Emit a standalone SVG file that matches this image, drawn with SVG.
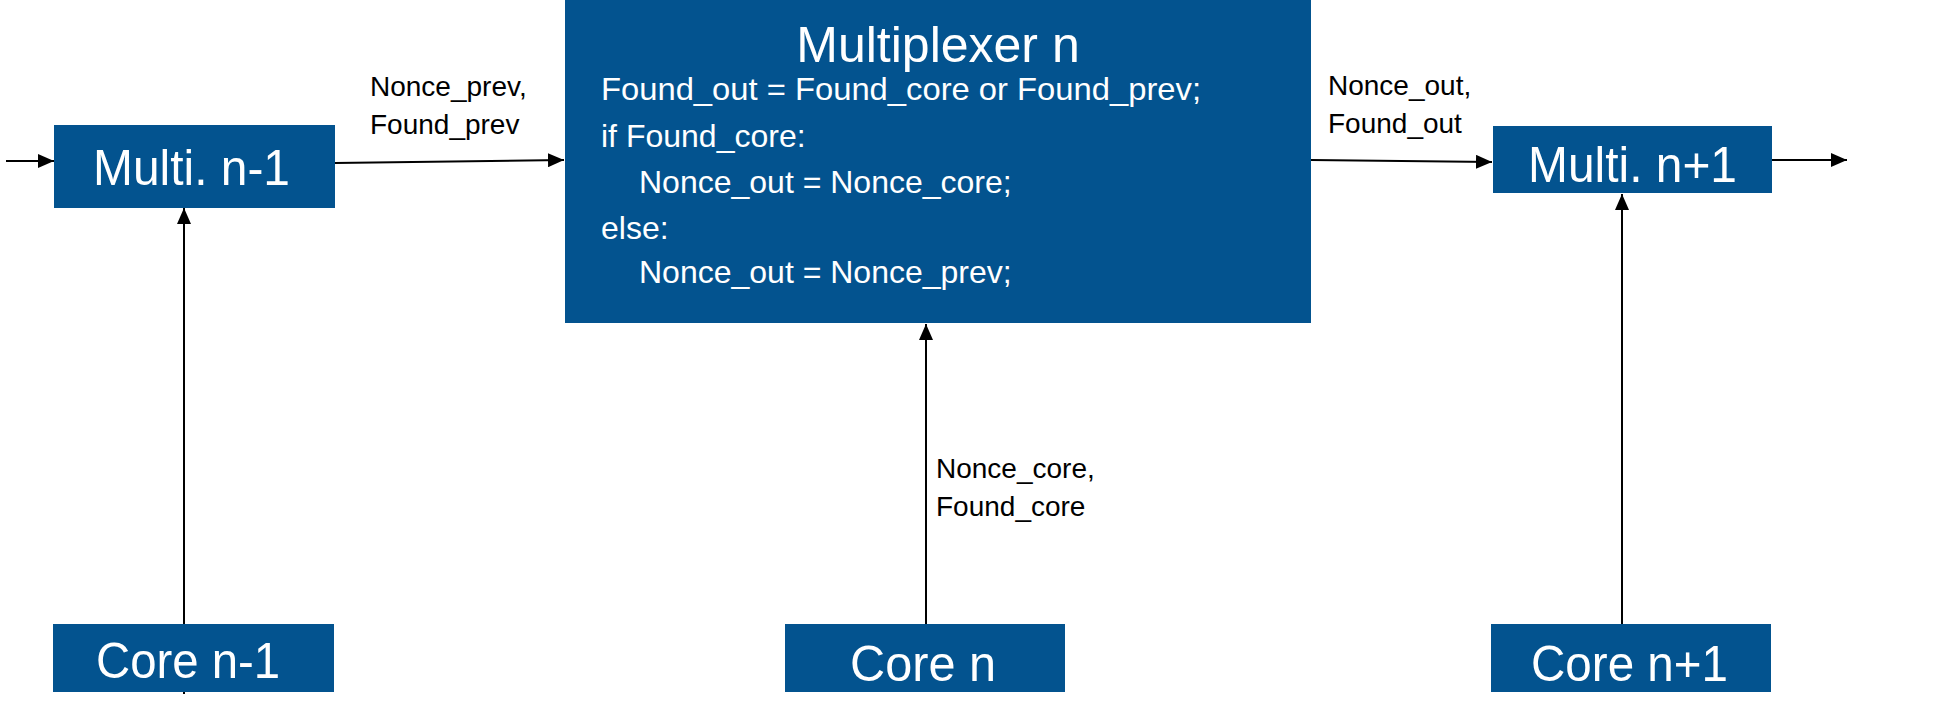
<svg xmlns="http://www.w3.org/2000/svg" width="1938" height="713" viewBox="0 0 1938 713">
<style>
.box{fill:#03538F;}
.wt{fill:#ffffff;font-family:"Liberation Sans",Arial,sans-serif;}
.big{font-size:50px;}
.code{font-size:32px;}
.lbl{fill:#000000;font-family:"Liberation Sans",Arial,sans-serif;font-size:28px;}
.ln{stroke:#000000;stroke-width:2;fill:none;}
</style>
<defs>
<marker id="ah" viewBox="0 0 16 14" refX="16" refY="7" markerWidth="16" markerHeight="14" markerUnits="userSpaceOnUse" orient="auto">
<path d="M0,0 L16,7 L0,14 Z" fill="#000000"/>
</marker>
</defs>
<rect width="1938" height="713" fill="#ffffff"/>
<g id="connectors">
<line class="ln" x1="6" y1="161" x2="54" y2="161" marker-end="url(#ah)"/>
<line class="ln" x1="335" y1="163" x2="564" y2="160" marker-end="url(#ah)"/>
<line class="ln" x1="1311" y1="160" x2="1492" y2="162" marker-end="url(#ah)"/>
<line class="ln" x1="1772" y1="160" x2="1847" y2="160" marker-end="url(#ah)"/>
<line class="ln" x1="184" y1="694" x2="184" y2="208" marker-end="url(#ah)"/>
<line class="ln" x1="926" y1="624" x2="926" y2="324" marker-end="url(#ah)"/>
<line class="ln" x1="1622" y1="624" x2="1622" y2="194" marker-end="url(#ah)"/>
<text class="lbl" x="370" y="96">Nonce_prev,</text>
<text class="lbl" x="370" y="134">Found_prev</text>
<text class="lbl" x="1328" y="95">Nonce_out,</text>
<text class="lbl" x="1328" y="133">Found_out</text>
<text class="lbl" x="936" y="478">Nonce_core,</text>
<text class="lbl" x="936" y="516">Found_core</text>
</g>
<g id="multi_n_minus_1">
<rect class="box" x="54" y="125" width="281" height="83"/>
<text class="wt big" x="93" y="185" textLength="197" lengthAdjust="spacingAndGlyphs">Multi. n-1</text>
</g>
<g id="multiplexer_n">
<rect class="box" x="565" y="0" width="746" height="323"/>
<text class="wt big" x="938" y="62" text-anchor="middle">Multiplexer n</text>
<text class="wt code" x="601" y="100" textLength="600" lengthAdjust="spacingAndGlyphs">Found_out = Found_core or Found_prev;</text>
<text class="wt code" x="601" y="147">if Found_core:</text>
<text class="wt code" x="639" y="193">Nonce_out = Nonce_core;</text>
<text class="wt code" x="601" y="239">else:</text>
<text class="wt code" x="639" y="283">Nonce_out = Nonce_prev;</text>
</g>
<g id="multi_n_plus_1">
<rect class="box" x="1493" y="126" width="279" height="67"/>
<text class="wt big" x="1528" y="182" textLength="209" lengthAdjust="spacingAndGlyphs">Multi. n+1</text>
</g>
<g id="core_n_minus_1">
<rect class="box" x="53" y="624" width="281" height="68"/>
<text class="wt big" x="96" y="678" textLength="184" lengthAdjust="spacingAndGlyphs">Core n-1</text>
</g>
<g id="core_n">
<rect class="box" x="785" y="624" width="280" height="68"/>
<text class="wt big" x="850" y="681" textLength="146" lengthAdjust="spacingAndGlyphs">Core n</text>
</g>
<g id="core_n_plus_1">
<rect class="box" x="1491" y="624" width="280" height="68"/>
<text class="wt big" x="1531" y="681" textLength="197" lengthAdjust="spacingAndGlyphs">Core n+1</text>
</g>
</svg>
